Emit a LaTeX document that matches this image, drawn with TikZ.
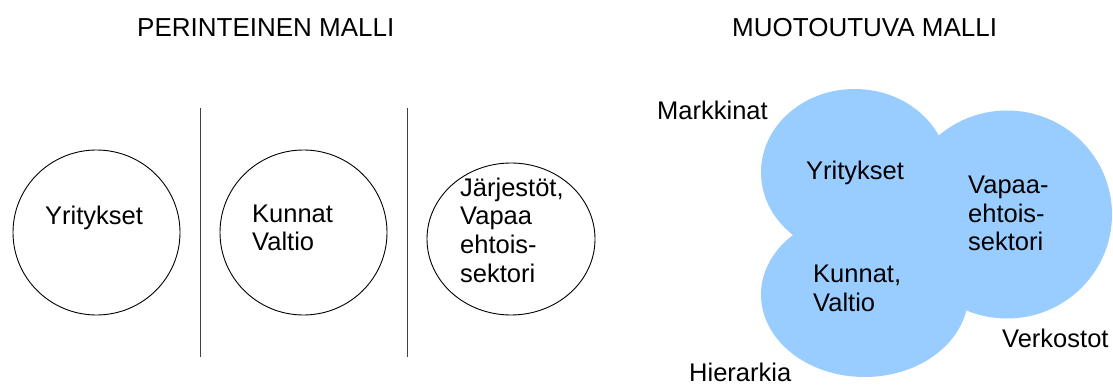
\documentclass[tikz,border=0pt]{standalone}
\usepackage{fontspec}
\setmainfont{Liberation Sans}
\usetikzlibrary{shapes.geometric}
\definecolor{cloudblue}{RGB}{153,204,255}
\begin{document}
\begin{tikzpicture}[x=1pt,y=-1pt,
  txt/.style={inner sep=0pt, anchor=base west, align=left,
              font=\fontsize{25.5}{28.5}\selectfont},
  heading/.style={inner sep=0pt, anchor=base west,
              font=\fontsize{26}{30}\selectfont},
  ring/.style={ellipse, draw=black, line width=0.9pt, inner sep=0pt},
  divider/.style={draw=black!75, line width=1pt},
  lobe/.style={fill=cloudblue}]
\useasboundingbox (0,0) rectangle (1113,387);

% ---- traditional model: three separate sectors ----
\node[heading] (tradtitle) at (137,37) {PERINTEINEN MALLI};

\node[ring, minimum width=167pt, minimum height=165pt] (c1) at (96.5,232.5) {};
\node[ring, minimum width=167pt, minimum height=165pt] (c2) at (303.5,232.5) {};
\node[ring, minimum width=168pt, minimum height=152pt] (c3) at (511,239) {};

\coordinate (d1top) at (200,108);
\coordinate (d1bot) at (200,357);
\coordinate (d2top) at (407,108);
\coordinate (d2bot) at (407,357);
\draw[divider] (d1top) -- (d1bot);
\draw[divider] (d2top) -- (d2bot);

% multi-line texts are placed by the baseline of their last line
\node[txt] (t1) at (45,225) {Yritykset};
\node[txt] (t2) at (252,251) {Kunnat\\Valtio};
\node[txt] (t3) at (460,282) {Järjestöt,\\Vapaa\\ehtois-\\sektori};

% ---- emerging model: overlapping cloud of sectors ----
\node[heading] (newtitle) at (732,37) {MUOTOUTUVA MALLI};

\fill[lobe] (854.7,172.35) ellipse [x radius=93.7, y radius=83.35];
\fill[lobe] (864.6,294.57) ellipse [x radius=103.6, y radius=82.43];
\fill[lobe] (1007,214.5) ellipse [x radius=105, y radius=104];

\node[txt] (m) at (657,120) {Markkinat};
\node[txt] (y) at (806,180) {Yritykset};
\node[txt] (v) at (968,251) {Vapaa-\\ehtois-\\sektori};
\node[txt] (k) at (813,311) {Kunnat,\\Valtio};
\node[txt] (ver) at (1002,347) {Verkostot};
\node[txt] (h) at (689,381) {Hierarkia};
\end{tikzpicture}
\end{document}
